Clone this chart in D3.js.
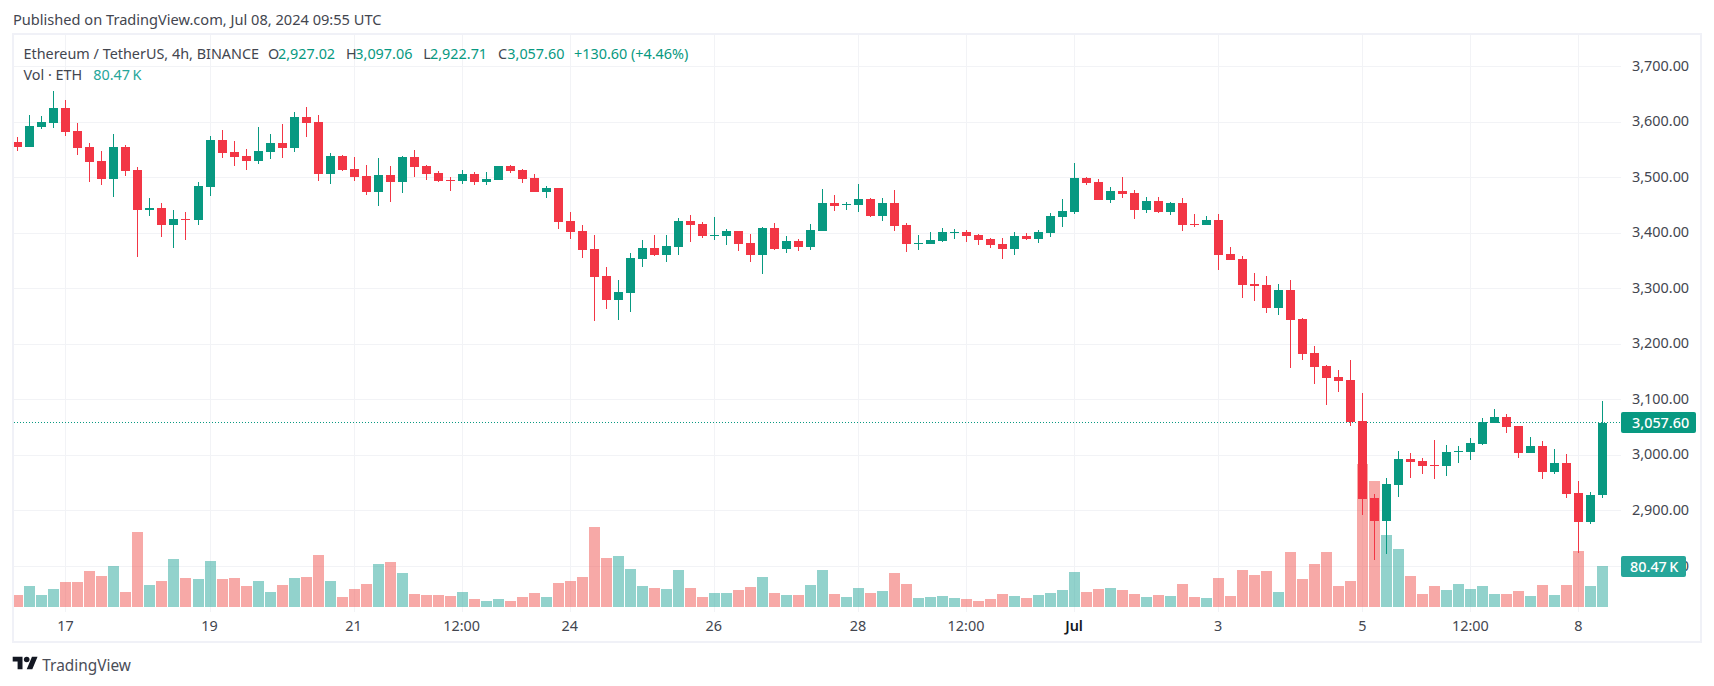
<!DOCTYPE html>
<html>
<head>
<meta charset="utf-8">
<script src="https://cdn.jsdelivr.net/npm/d3@7"></script>
<style>
html, body { margin: 0; padding: 0; background: #fff; overflow: hidden; }
svg { display: block; }
text { font-family: "Noto Sans", sans-serif; }
.axis path, .axis line { display: none; }
</style>
</head>
<body>
<div id="chart"></div>
<script>
// ETHUSDT 4h candles
var open = [
  3563.2,3554.2,3590.2,3597.4,3624.4,3583.0,3554.2,3529.0,3496.6,3554.2,
  3512.8,3440.8,3444.4,3413.8,3424.6,3422.8,3482.2,3566.8,3545.2,3538.0,
  3529.0,3545.2,3561.4,3552.4,3608.2,3599.2,3505.6,3538.0,3514.6,3502.0,
  3473.2,3503.8,3491.2,3536.2,3520.0,3507.4,3494.8,3493.0,3505.6,3491.2,
  3494.8,3520.0,3512.8,3498.4,3473.2,3480.4,3421.0,3403.0,3370.6,3322.0,
  3278.8,3291.4,3352.6,3372.4,3359.8,3374.2,3421.0,3415.6,3394.0,3394.0,
  3403.0,3381.4,3359.8,3408.4,3370.6,3385.0,3374.2,3403.0,3453.4,3449.8,
  3449.8,3460.6,3430.0,3453.4,3413.8,3379.6,3379.6,3385.0,3399.4,3401.2,
  3395.8,3388.6,3379.6,3370.6,3394.0,3388.6,3399.4,3428.2,3437.2,3498.4,
  3491.2,3458.8,3475.0,3471.4,3440.8,3457.0,3437.2,3453.4,3415.6,3413.8,
  3422.8,3361.6,3352.6,3307.6,3305.8,3264.4,3296.8,3244.6,3183.4,3160.0,
  3140.2,3134.8,3061.0,2922.4,2881.0,2945.8,2992.6,2989.0,2981.8,2980.0,
  3005.2,3005.2,3019.6,3057.4,3068.2,3052.0,3003.4,3016.0,2969.2,2985.4,
  2931.4,2879.2,2927.02
];
var high = [
  3572.2,3611.8,3610.0,3655.0,3638.8,3597.4,3561.4,3547.0,3577.6,3557.8,
  3518.2,3462.4,3453.4,3440.8,3437.2,3491.2,3574.0,3584.8,3565.0,3550.6,
  3590.2,3577.6,3595.6,3617.2,3626.2,3611.8,3543.4,3539.8,3536.2,3521.8,
  3534.4,3520.0,3538.0,3548.8,3521.8,3511.0,3500.2,3512.8,3509.2,3509.2,
  3520.0,3521.8,3514.6,3505.6,3484.0,3480.4,3437.2,3413.8,3395.8,3338.2,
  3314.8,3363.4,3386.8,3395.8,3395.8,3426.4,3431.8,3419.2,3428.2,3406.6,
  3403.0,3397.6,3410.2,3417.4,3394.0,3388.6,3415.6,3478.6,3467.8,3455.2,
  3487.6,3462.4,3462.4,3476.8,3417.4,3395.8,3401.2,3408.4,3406.6,3404.8,
  3397.6,3390.4,3390.4,3401.2,3399.4,3404.8,3435.4,3460.6,3525.4,3500.2,
  3496.6,3482.2,3500.2,3476.8,3464.2,3464.2,3455.2,3462.4,3433.6,3430.0,
  3433.6,3374.2,3358.0,3327.4,3322.0,3307.6,3314.8,3246.4,3196.0,3161.8,
  3152.8,3170.8,3111.4,2929.6,2958.4,3007.0,3003.4,2994.4,3026.8,3017.8,
  3016.0,3030.4,3066.4,3082.6,3073.6,3052.0,3032.2,3025.0,3010.6,3001.6,
  2953.0,2933.2,3097.06
];
var low = [
  3547.0,3554.2,3586.6,3588.4,3574.0,3539.8,3491.2,3485.8,3464.2,3502.0,
  3356.2,3430.0,3392.2,3372.4,3386.8,3413.8,3466.0,3534.4,3520.0,3512.8,
  3523.6,3532.6,3534.4,3545.2,3572.2,3493.0,3487.6,3511.0,3493.0,3467.8,
  3448.0,3455.2,3471.4,3500.2,3494.8,3491.2,3475.0,3487.6,3485.8,3485.8,
  3494.8,3507.4,3489.4,3473.2,3462.4,3406.6,3388.6,3354.4,3241.0,3262.6,
  3242.8,3257.2,3338.2,3358.0,3347.2,3359.8,3383.2,3390.4,3386.8,3377.8,
  3367.0,3347.2,3325.6,3368.8,3363.4,3367.0,3368.8,3403.0,3439.0,3440.8,
  3437.2,3428.2,3421.0,3403.0,3365.2,3368.8,3379.6,3383.2,3388.6,3383.2,
  3377.8,3372.4,3352.6,3359.8,3386.8,3381.4,3392.2,3410.2,3433.6,3485.8,
  3458.8,3453.4,3462.4,3424.6,3435.4,3435.4,3431.8,3403.0,3410.2,3413.8,
  3332.8,3350.8,3282.4,3277.0,3255.4,3251.8,3156.4,3170.8,3127.6,3089.8,
  3113.2,3052.0,2891.8,2810.8,2821.6,2924.2,2958.4,2965.6,2956.6,2962.0,
  2985.4,2990.8,3017.8,3057.4,3039.4,2994.4,3003.4,2956.6,2965.6,2922.4,
  2823.4,2875.6,2922.71
];
var close = [
  3554.2,3592.0,3599.2,3624.4,3581.2,3552.4,3527.2,3496.6,3554.2,3511.0,
  3440.8,3444.4,3413.8,3424.6,3422.8,3484.0,3566.8,3543.4,3536.2,3529.0,
  3547.0,3561.4,3552.4,3608.2,3597.4,3505.6,3538.0,3512.8,3500.2,3473.2,
  3503.8,3491.2,3536.2,3518.2,3505.6,3493.0,3493.0,3505.6,3491.2,3496.6,
  3520.0,3511.0,3496.6,3473.2,3480.4,3419.2,3401.2,3368.8,3320.2,3278.8,
  3293.2,3354.4,3372.4,3359.8,3376.0,3421.0,3413.8,3394.0,3395.8,3403.0,
  3379.6,3359.8,3408.4,3370.6,3385.0,3374.2,3404.8,3453.4,3448.0,3451.6,
  3460.6,3430.0,3453.4,3412.0,3379.6,3381.4,3386.8,3401.2,3401.2,3394.0,
  3386.8,3377.8,3370.6,3394.0,3388.6,3401.2,3430.0,3439.0,3498.4,3489.4,
  3458.8,3475.0,3469.6,3440.8,3457.0,3437.2,3453.4,3413.8,3413.8,3422.8,
  3359.8,3350.8,3305.8,3304.0,3264.4,3296.8,3242.8,3181.6,3158.2,3138.4,
  3133.0,3059.2,2920.6,2881.0,2947.6,2992.6,2987.2,2980.0,2980.0,3005.2,
  3007.0,3021.4,3059.2,3068.2,3050.2,3003.4,3016.0,2969.2,2985.4,2929.6,
  2879.2,2927.8,3057.60
];
// volume in thousands of ETH
var volume = [
  23.5,41.2,23.5,35.3,49.1,49.1,70.6,60.8,80.5,29.4,
  147.2,43.2,51.0,94.2,56.9,54.9,90.3,54.9,56.9,41.2,
  51.0,29.4,43.2,56.9,58.9,102.0,51.0,19.6,35.3,45.1,
  84.4,88.3,66.7,25.5,23.5,23.5,21.6,29.4,15.7,11.8,
  15.7,11.8,19.6,27.5,19.6,47.1,51.0,58.9,157.0,96.1,
  100.1,74.6,41.2,37.3,35.3,72.6,37.3,19.6,27.5,27.5,
  33.4,39.2,58.9,27.5,23.5,23.5,43.2,72.6,25.5,19.6,
  37.3,27.5,31.4,66.7,45.1,17.7,19.6,21.6,17.7,15.7,
  11.8,15.7,25.5,21.6,17.7,23.5,27.5,33.4,68.7,29.4,
  35.3,37.3,33.4,25.5,19.6,23.5,21.6,45.1,19.6,17.7,
  56.9,21.6,72.6,62.8,70.6,29.4,107.9,54.9,84.4,107.9,
  41.2,51.0,280.6,247.2,141.3,113.8,60.8,25.5,41.2,33.4,
  45.1,35.3,41.2,25.5,25.5,31.4,21.6,43.2,23.5,43.2,
  109.9,41.2,80.47
];
var priceTicks = [3700,3600,3500,3400,3300,3200,3100,3000,2900,2800];
var timeTickIndex = [4,16,28,37,46,58,70,79,88,100,112,121,130];
var timeTickLabels = ["17","19","21","12:00","24","26","28","12:00","Jul","3","5","12:00","8"];
var lastPrice = 3057.60;
var lastVolume = 80.47;

var width = 1714, height = 686;
var up = "#089981", down = "#F23645";
var volUp = "rgba(38,166,154,0.5)", volDown = "rgba(239,83,80,0.5)";
var gridColor = "#f2f3f6", frameColor = "#f0f1f7", textColor = "#43464f";

var svg = d3.select("#chart").append("svg")
  .attr("width", width)
  .attr("height", height);

var x = d3.scaleLinear().domain([0, 132]).range([17.89, 1602.89]);
var y = d3.scaleLinear().domain([3700, 2800]).range([66, 566]);
var yVol = d3.scaleLinear().domain([0, lastVolume]).range([607, 566]);

function isUp(i) { return close[i] >= open[i]; }
function left(i) { return Math.round(x(i) - 4.5); }

svg.append("clipPath").attr("id", "pane").append("rect")
  .attr("x", 14).attr("y", 35).attr("width", 1607).attr("height", 606);

// grid
svg.append("g").selectAll("line").data(priceTicks).join("line")
  .attr("x1", 14).attr("x2", 1621)
  .attr("y1", d => Math.round(y(d)) + 0.5)
  .attr("y2", d => Math.round(y(d)) + 0.5)
  .attr("stroke", gridColor);
svg.append("g").selectAll("line").data(timeTickIndex).join("line")
  .attr("x1", d => left(d) + 4.5).attr("x2", d => left(d) + 4.5)
  .attr("y1", 35).attr("y2", 612)
  .attr("stroke", gridColor);

// volume bars
svg.append("g").attr("clip-path", "url(#pane)")
  .attr("shape-rendering", "crispEdges")
  .selectAll("rect").data(volume).join("rect")
  .attr("x", (d, i) => left(i) - 1)
  .attr("width", 11)
  .attr("y", d => Math.round(yVol(d)))
  .attr("height", d => 607 - Math.round(yVol(d)))
  .attr("fill", (d, i) => isUp(i) ? volUp : volDown);

// last price line
svg.append("line")
  .attr("x1", 14).attr("x2", 1621)
  .attr("y1", Math.round(y(lastPrice)) - 0.5).attr("y2", Math.round(y(lastPrice)) - 0.5)
  .attr("stroke", up).attr("stroke-dasharray", "1 2");

// candles
var candles = svg.append("g").attr("shape-rendering", "crispEdges");
candles.selectAll(".wick").data(open).join("rect")
  .attr("class", "wick")
  .attr("x", (d, i) => left(i) + 4)
  .attr("width", 1)
  .attr("y", (d, i) => Math.round(y(high[i])))
  .attr("height", (d, i) => Math.max(1, Math.round(y(low[i])) - Math.round(y(high[i]))))
  .attr("fill", (d, i) => isUp(i) ? up : down);
candles.selectAll(".body").data(open).join("rect")
  .attr("class", "body")
  .attr("x", (d, i) => left(i))
  .attr("width", 9)
  .attr("y", (d, i) => Math.round(y(Math.max(open[i], close[i]))))
  .attr("height", (d, i) => Math.max(1, Math.round(y(Math.min(open[i], close[i]))) - Math.round(y(Math.max(open[i], close[i])))))
  .attr("fill", (d, i) => isUp(i) ? up : down);

// frame
svg.append("rect")
  .attr("x", 13).attr("y", 34).attr("width", 1688).attr("height", 608)
  .attr("fill", "none").attr("stroke", frameColor).attr("stroke-width", 2);

// axes
var yAxis = d3.axisRight(y).tickValues(priceTicks).tickFormat(d3.format(",.2f")).tickSize(0).tickPadding(0);
var gy = svg.append("g").attr("class", "axis").attr("transform", "translate(1632,-0.5)").call(yAxis);
gy.selectAll("text").attr("font-size", 14.4).attr("fill", textColor).style("font-family", "'Noto Sans', sans-serif");

var xAxis = d3.axisBottom(x).tickValues(timeTickIndex)
  .tickFormat((d, i) => timeTickLabels[i]).tickSize(0).tickPadding(0);
var gx = svg.append("g").attr("class", "axis").attr("transform", "translate(-1,620.5)").call(xAxis);
gx.selectAll("text").attr("font-size", 14.4)
  .attr("fill", d => d == 88 ? "#131722" : textColor)
  .attr("font-weight", d => d == 88 ? 600 : 400)
  .style("font-family", "'Noto Sans', sans-serif");

// price and volume tags
svg.append("rect").attr("x", 1621).attr("y", Math.round(y(lastPrice)) - 11)
  .attr("width", 75).attr("height", 21).attr("rx", 2).attr("fill", up);
svg.append("text").attr("x", 1632).attr("y", Math.round(y(lastPrice)) + 5)
  .attr("font-size", 14.4).attr("font-weight", 500).attr("fill", "#fff")
  .text(d3.format(",.2f")(lastPrice));
svg.append("rect").attr("x", 1621).attr("y", 556)
  .attr("width", 65).attr("height", 21).attr("rx", 2).attr("fill", "#26a69a");
svg.append("text").attr("x", 1630).attr("y", 572)
  .attr("font-size", 14.4).attr("font-weight", 500).attr("fill", "#fff")
  .text(lastVolume + "\u202fK");

// header and legend
function label(str, px, py, color, size) {
  svg.append("text").attr("x", px).attr("y", py)
    .attr("font-size", size || 14.4).attr("fill", color || textColor).text(str);
}
label("Published on TradingView.com, Jul 08, 2024 09:55 UTC", 13, 25, textColor, 14.6);
label("Ethereum / TetherUS, 4h, BINANCE", 23.5, 59);
label("O", 268, 59);
label("2,927.02", 278, 59, up);
label("H", 346, 59);
label("3,097.06", 355.3, 59, up);
label("L", 423.3, 59);
label("2,922.71", 430, 59, up);
label("C", 498, 59);
label("3,057.60", 507.3, 59, up);
label("+130.60 (+4.46%)", 574, 59, up);
label("Vol \u00b7 ETH", 23.5, 80);
label("80.47\u202fK", 93.3, 80, "#26a69a");

// logo
var logo = svg.append("g").attr("transform", "translate(12.7,653.9) scale(0.7)").attr("fill", "#131722");
logo.append("path").attr("d", "M14 22H7V11H0V4h14v18zM28 22h-8l7.5-18h8L28 22z");
logo.append("circle").attr("cx", 20).attr("cy", 8).attr("r", 4);
label("TradingView", 42.3, 670.5, "#4a4d57", 15.4);
</script>
</body>
</html>
